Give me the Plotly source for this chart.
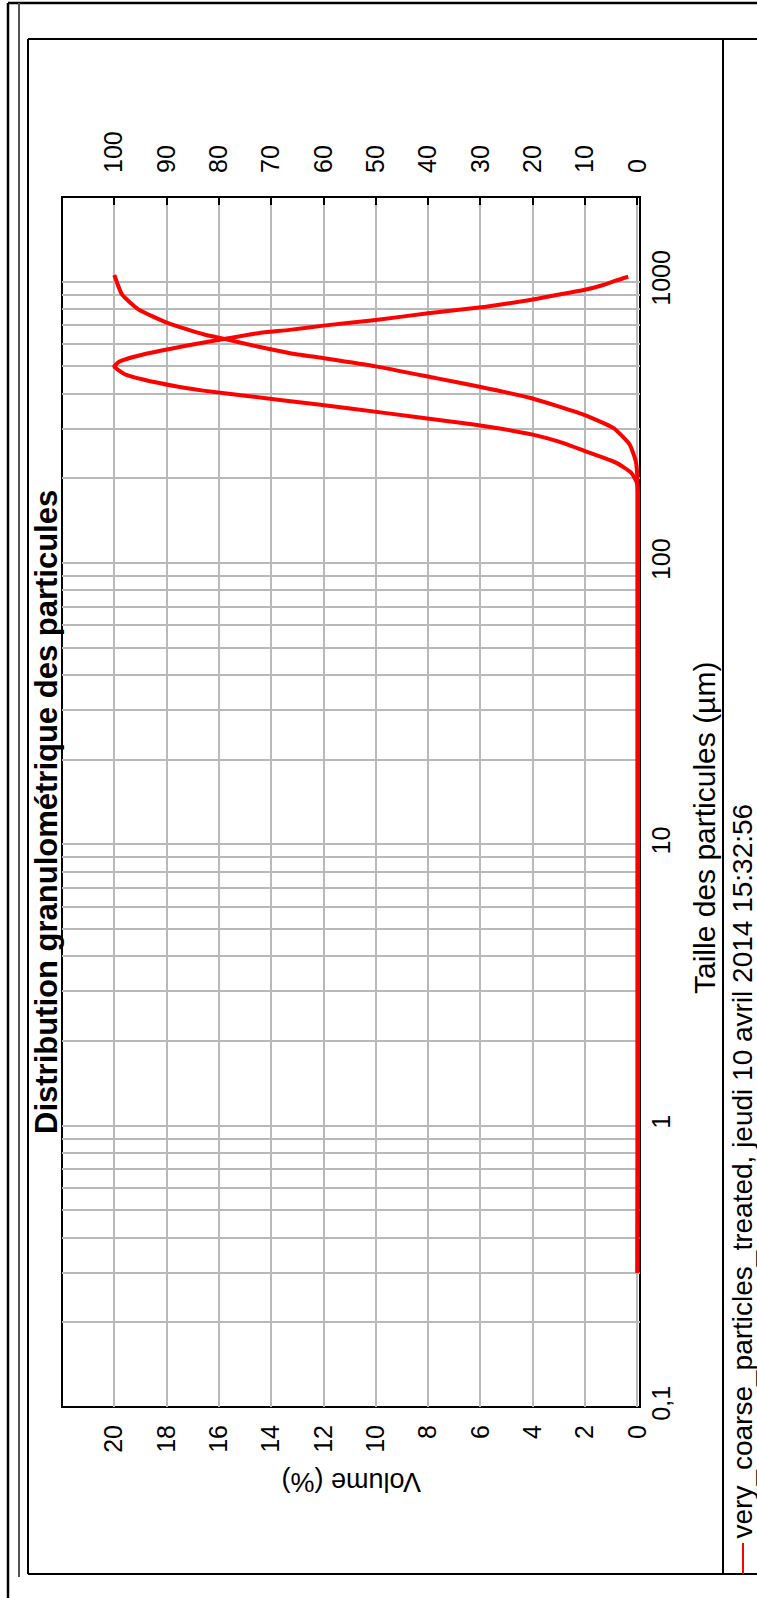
import plotly.graph_objects as go

# Particle size classes (µm) and volume density (%) of the sample
freq_size_um = [0.3, 190, 200, 210, 227, 250, 270, 286, 300, 310, 320, 341, 366, 393, 410,
                424, 449, 469, 500, 520, 551, 598, 628, 656, 674, 698, 731, 772, 815, 861,
                900, 934, 973, 1010, 1041]
freq_volume_pct = [0, 0, 0.1, 0.25, 0.8, 2.0, 3.0, 4.0, 5.2, 6.2, 7.3, 9.6, 12.2, 15.0, 16.6,
                   17.6, 18.9, 19.6, 20.0, 19.8, 18.9, 17.0, 15.7, 14.5, 13.3, 12.0, 10.0, 8.0, 5.8, 4.1,
                   3.0, 2.05, 1.3, 0.8, 0.35]

# Cumulative undersize volume (%)
cum_size_um = [0.3, 200, 230, 264, 302, 337, 386, 424, 454, 500, 535, 557, 588, 626, 649,
               712, 796, 899, 1056]
cum_volume_pct = [0, 0, 0.3, 1.5, 4.6, 10.3, 20.4, 30.4, 38.5, 50.0, 60.1, 66.4, 72.6, 79.0, 82.8,
                  89.7, 95.3, 98.5, 100]

volume_ticks = [0, 2, 4, 6, 8, 10, 12, 14, 16, 18, 20]
cum_ticks = [0, 10, 20, 30, 40, 50, 60, 70, 80, 90, 100]
size_major = [0.1, 1, 10, 100, 1000]
size_major_text = ["0,1", "1", "10", "100", "1000"]

series_name = "very_coarse_particles_treated, jeudi 10 avril 2014 15:32:56"
title_text = "Distribution granulométrique des particules"

# page geometry (pixels)
W, H = 757, 1598
L, R, T, B = 62, 640, 197, 1407


def px(x):
    return (x - L) / (R - L)


def py(y):
    return (B - y) / (B - T)


FONT = "Liberation Sans, Arial, sans-serif"
RED = "#ff0000"
GRID = "#b9b9b9"

# log grid: every integer multiple inside each decade
size_grid = []
for d in [0.1, 1, 10, 100, 1000]:
    for k in range(1, 10):
        v = d * k
        if v <= 2000:
            size_grid.append(v)
size_grid_text = [size_major_text[size_major.index(v)] if v in size_major else "" for v in size_grid]

fig = go.Figure()
fig.add_trace(go.Scatter(x=freq_volume_pct, y=freq_size_um, mode="lines",
                         line=dict(color=RED, width=4, shape="spline", smoothing=0.5),
                         xaxis="x", yaxis="y", showlegend=False))
fig.add_trace(go.Scatter(x=cum_volume_pct, y=cum_size_um, mode="lines",
                         line=dict(color=RED, width=4, shape="spline", smoothing=0.5),
                         xaxis="x2", yaxis="y", showlegend=False))

tickfont = dict(family=FONT, size=25, color="black")

fig.update_layout(
    width=W, height=H,
    margin=dict(l=L, r=W - R, t=T, b=H - B, pad=0),
    paper_bgcolor="white", plot_bgcolor="white",
    showlegend=False,
    xaxis=dict(range=[22, -0.1], tickvals=volume_ticks, ticktext=[str(v) for v in volume_ticks],
               tickangle=-90, tickfont=tickfont, ticks="", showgrid=True, gridcolor=GRID,
               gridwidth=1.5, zeroline=False, showline=False, layer="below traces",
               ticklabelstandoff=12),
    xaxis2=dict(range=[110, -0.5], overlaying="x", side="top", anchor="y",
                tickvals=cum_ticks, ticktext=[str(v) for v in cum_ticks], tickangle=-90,
                tickfont=tickfont, ticks="inside", ticklen=8, tickwidth=1.5, tickcolor="black",
                showgrid=False, zeroline=False, showline=False, ticklabelstandoff=23),
    yaxis=dict(type="log", range=[-1, 3.301], side="right", tickvals=size_grid,
               ticktext=size_grid_text, tickangle=-90, tickfont=tickfont, ticks="",
               showgrid=True, gridcolor=GRID, gridwidth=1.5, zeroline=False, showline=False,
               layer="below traces", ticklabelstandoff=4),
)

shapes = []


def hline(y, x0, x1, color="black", width=2):
    shapes.append(dict(type="line", xref="paper", yref="paper", x0=px(x0), x1=px(x1),
                       y0=py(y), y1=py(y), line=dict(color=color, width=width), layer="above"))


def vline(x, y0, y1, color="black", width=2):
    shapes.append(dict(type="line", xref="paper", yref="paper", x0=px(x), x1=px(x),
                       y0=py(y0), y1=py(y1), line=dict(color=color, width=width), layer="above"))


# outer page frame
vline(8, 3, H, width=2.5)
hline(3, 8, W, width=2.5)
vline(19, 3, 1577, color="#555555", width=2)
# chart frame and legend panel
hline(39, 28, W)
hline(1574, 28, W)
vline(28, 39, 1574)
vline(723, 39, 1574)
# plot box
shapes.append(dict(type="rect", xref="paper", yref="paper", x0=0, x1=1, y0=0, y1=1,
                   line=dict(color="black", width=2), layer="between"))
# legend line sample
vline(743, 1543, 1574, color=RED, width=2)
fig.update_layout(shapes=shapes)

fig.add_annotation(text="<b>" + title_text + "</b>", xref="paper", yref="paper",
                   x=px(46), y=py(812), xanchor="center", yanchor="middle", textangle=-90,
                   showarrow=False, font=dict(family=FONT, size=31, color="black"))
fig.add_annotation(text="Taille des particules (µm)", xref="paper", yref="paper",
                   x=px(704), y=py(828), xanchor="center", yanchor="middle", textangle=-90,
                   showarrow=False, font=dict(family=FONT, size=30, color="black"))
fig.add_annotation(text="Volume (%)", xref="paper", yref="paper",
                   x=px(351), y=py(1482), xanchor="center", yanchor="middle", textangle=180,
                   showarrow=False, font=dict(family=FONT, size=27, color="black"))
fig.add_annotation(text=series_name, xref="paper", yref="paper",
                   x=px(742), y=py(1541), xanchor="center", yanchor="bottom", textangle=-90,
                   showarrow=False, font=dict(family=FONT, size=28, color="black"))

fig.write_html("out.html")
